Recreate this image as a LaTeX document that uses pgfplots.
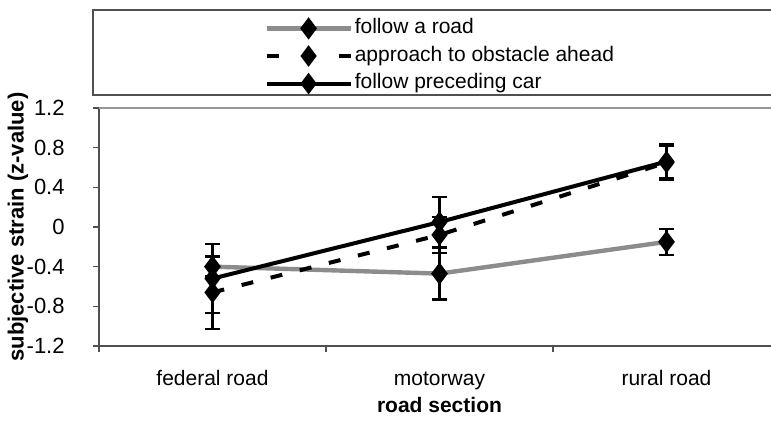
\documentclass[border=0pt]{standalone}
\usepackage{pgfplots}
\pgfplotsset{compat=1.18}
\usepackage{fontspec}
\setmainfont{Liberation Sans}
\definecolor{roadgray}{RGB}{140,140,140}
\definecolor{axgray}{RGB}{80,80,80}
\definecolor{topgray}{RGB}{150,150,150}

\pgfplotsset{
  mylegend/.style={legend image code/.code={\draw[mark repeat=2,mark phase=2,##1] plot coordinates {(0pt,0pt) (21pt,0pt) (42pt,0pt)};}},
  dashlegend/.style={legend image code/.code={\draw[mark repeat=2,mark phase=2,##1,dash pattern=on 6pt off 12pt] plot coordinates {(0pt,0pt) (21pt,0pt) (42pt,0pt)};}},
}

\pgfplotstableread{
x y e
0 -0.40 0.10
1 -0.47 0.26
2 -0.15 0.13
}\followroad
\pgfplotstableread{
x y e
0 -0.66 0.37
1 -0.08 0.18
2 0.65 0.17
}\approach
\pgfplotstableread{
x y e
0 -0.52 0.35
1 0.05 0.25
2 0.66 0.17
}\preceding

\begin{document}
\begin{tikzpicture}[font=\fontsize{10.5}{12.6}\selectfont]
\useasboundingbox (0,0) rectangle (385.5pt,213pt);
\draw[axgray, line width=0.75pt] (46.5pt,165.5pt) rectangle (420pt,208pt);
\begin{axis}[
  at={(49.5pt,40pt)}, anchor=south west,
  scale only axis, width=340.5pt, height=119pt,
  xmin=-0.5, xmax=2.5, ymin=-1.2, ymax=1.2,
  axis x line*=bottom, axis y line*=left,
  axis line style={axgray, line width=0.9pt},
  xtick={-0.5,0.5,1.5,2.5},
  x tick label as interval,
  xticklabels={federal road, motorway, rural road},
  ytick={-1.2,-0.8,-0.4,0,0.4,0.8,1.2},
  yticklabels={-1.2,-0.8,-0.4,0,0.4,0.8,1.2},
  tick align=outside, major tick length=3pt,
  tick style={axgray, line width=0.75pt},
  xticklabel style={anchor=base, yshift=-17pt, inner sep=0pt},
  yticklabel style={anchor=east, inner sep=0pt, xshift=-14pt, font=\fontsize{11}{13}\selectfont},
  xlabel={\textbf{road section}},
  ylabel={\textbf{subjective strain (z-value)}},
  xlabel style={at={(axis description cs:0.5,0)}, anchor=base, yshift=-33.5pt, inner sep=0pt},
  ylabel style={at={(axis description cs:-0.119,0.5)}, anchor=center, inner sep=0pt, font=\fontsize{11}{13}\selectfont},
  clip=false,
  mylegend,
  legend style={at={(axis description cs:0.2423,1.2185)}, anchor=west, draw=none, fill=none,
    inner sep=0pt, row sep=2.0pt, nodes={inner sep=1pt, text height=7.6pt, text depth=2.2pt}},
  legend cell align=left,
]
\draw[topgray, line width=1pt] (rel axis cs:0,1) -- (rel axis cs:1,1);
\addplot[roadgray, line width=2.2pt, mark=diamond*, mark size=3.75pt,
  mark options={black, fill=black, solid},
  error bars/.cd, y dir=both, y explicit,
  error bar style={black, line width=1.2pt, solid},
  error mark options={rotate=90, black, mark size=3.75pt, line width=1.2pt}]
  table[x=x, y=y, y error=e] {\followroad};
\addlegendentry{follow a road}
\addplot[black, line width=2pt, dash pattern=on 6pt off 9pt, mark=diamond*, mark size=3.75pt,
  mark options={black, fill=black, solid}, dashlegend,
  error bars/.cd, y dir=both, y explicit,
  error bar style={black, line width=1.2pt, solid},
  error mark options={rotate=90, black, mark size=3.75pt, line width=1.2pt}]
  table[x=x, y=y, y error=e] {\approach};
\addlegendentry{approach to obstacle ahead}
\addplot[black, line width=2pt, mark=diamond*, mark size=3.75pt,
  mark options={black, fill=black, solid},
  error bars/.cd, y dir=both, y explicit,
  error bar style={black, line width=1.2pt, solid},
  error mark options={rotate=90, black, mark size=3.75pt, line width=1.2pt}]
  table[x=x, y=y, y error=e] {\preceding};
\addlegendentry{follow preceding car}
\end{axis}
\end{tikzpicture}
\end{document}
